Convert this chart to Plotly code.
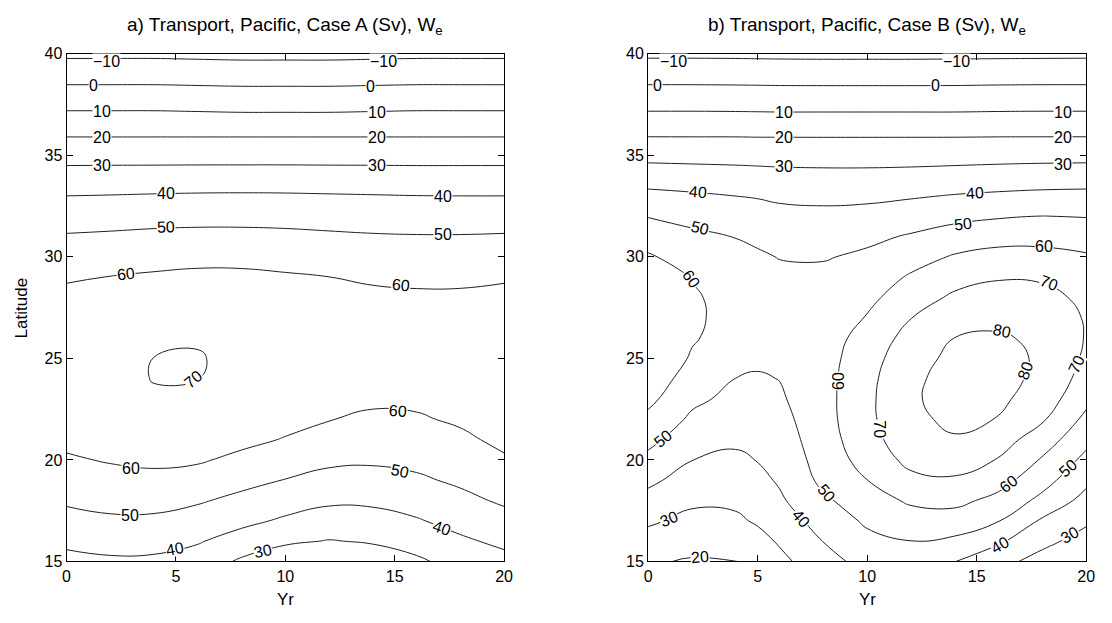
import plotly.graph_objects as go

# ---------------- data ----------------
lat = list(range(15, 41))                     # 15 ... 40 degN
yr_a = [0, 2, 4, 6, 8, 10, 12, 14, 16, 18, 20]
yr_b = [0, 2, 4, 5, 6, 8, 10, 12, 14, 16, 18, 20]
levels = [-10, 0, 10, 20, 30, 40, 50, 60, 70, 80]

# Case A transport (Sv), one list per year column, latitudes 15..40
a_yr00 = [37.2, 42.0, 46.8, 51.3, 55.1, 58.9, 62.1, 64.5, 66.1, 66.9, 66.9, 66.1, 64.6, 62.3, 59.0, 54.9, 50.8, 45.6, 40.0, 33.4, 26.5, 19.3, 11.5, 3.7, -4.1, -11.8]
a_yr02 = [38.5, 43.5, 48.5, 52.8, 56.8, 60.7, 63.9, 66.3, 67.9, 68.7, 68.7, 67.8, 66.1, 63.6, 60.2, 55.8, 51.4, 46.1, 40.3, 33.6, 26.5, 19.3, 11.5, 3.7, -4.1, -11.8]
a_yr04 = [38.2, 43.3, 48.3, 53.0, 57.5, 61.8, 65.2, 67.8, 69.5, 70.15, 70.05, 69.1, 67.3, 64.7, 61.2, 56.7, 52.1, 46.7, 40.7, 33.7, 26.5, 19.3, 11.5, 3.7, -4.1, -11.8]
a_yr06 = [35.6, 40.8, 45.9, 51.0, 56.2, 61.0, 64.5, 67.2, 69.0, 70.05, 70.25, 69.67, 68.05, 65.5, 62.0, 57.4, 52.5, 47.0, 41.0, 33.85, 26.5, 19.3, 11.2, 3.4, -4.4, -12.1]
a_yr08 = [28.5, 35.9, 42.4, 47.6, 52.8, 57.9, 62.2, 65.3, 67.5, 68.8, 69.0, 68.7, 67.4, 65.1, 61.9, 57.4, 52.5, 47.0, 41.1, 33.9, 26.5, 19.3, 10.9, 3.1, -4.7, -12.4]
a_yr10 = [24.3, 31.4, 38.6, 44.3, 49.7, 54.6, 59.5, 62.7, 65.0, 66.4, 66.98, 66.7, 65.65, 63.7, 61.0, 56.7, 52.1, 46.8, 41.0, 33.9, 26.5, 19.3, 10.9, 3.1, -4.7, -12.4]
a_yr12 = [23.4, 29.6, 35.7, 41.6, 47.0, 51.9, 56.2, 60.3, 62.85, 64.55, 65.4, 65.4, 64.5, 62.7, 60.05, 55.7, 51.4, 46.3, 40.7, 33.7, 26.5, 19.3, 10.9, 3.1, -4.7, -12.4]
a_yr14 = [25.3, 30.8, 36.4, 41.75, 46.75, 51.3, 54.9, 58.5, 61.5, 63.4, 64.3, 64.4, 63.6, 61.8, 58.8, 54.8, 50.8, 45.7, 40.4, 33.6, 26.5, 19.3, 11.2, 3.4, -4.4, -12.1]
a_yr16 = [28.4, 33.8, 39.2, 44.0, 48.6, 52.3, 55.7, 59.0, 61.8, 63.6, 64.4, 64.3, 63.3, 61.4, 58.2, 54.3, 50.5, 45.4, 40.1, 33.4, 26.5, 19.3, 11.5, 3.7, -4.1, -11.8]
a_yr18 = [33.5, 38.5, 43.1, 47.6, 51.5, 54.8, 58.2, 61.3, 63.65, 65.0, 65.5, 65.05, 63.7, 61.5, 58.15, 54.3, 50.5, 45.3, 40.0, 33.4, 26.5, 19.3, 11.5, 3.7, -4.1, -11.8]
a_yr20 = [37.2, 42.0, 46.8, 51.3, 55.1, 58.9, 62.1, 64.5, 66.1, 66.9, 66.9, 66.1, 64.6, 62.3, 59.0, 54.9, 50.8, 45.6, 40.0, 33.4, 26.5, 19.3, 11.5, 3.7, -4.1, -11.8]

# Case B transport (Sv)
b_yr00 = [21.0, 26.3, 31.5, 36.8, 42.1, 47.5, 52.7, 57.7, 62.5, 66.1, 68.4, 69.44, 69.2, 67.7, 65.0, 61.1, 55.6, 49.6, 42.6, 34.9, 27.1, 19.3, 11.3, 3.6, -4.0, -11.7]
b_yr02 = [19.2, 23.3, 27.5, 31.7, 35.8, 40.1, 44.2, 48.3, 52.1, 55.5, 59.0, 60.9, 61.5, 61.1, 59.6, 55.8, 52.0, 47.2, 41.3, 34.3, 26.8, 19.3, 11.3, 3.6, -4.0, -11.7]
b_yr04 = [19.9, 24.1, 28.3, 31.9, 35.1, 38.4, 41.5, 44.4, 47.4, 49.9, 53.7, 55.9, 56.9, 56.8, 55.6, 53.2, 49.7, 44.8, 39.95, 33.5, 26.7, 19.3, 11.2, 3.5, -4.1, -11.8]
b_yr05 = [21.1, 26.7, 31.2, 34.3, 37.4, 40.3, 42.5, 44.7, 46.8, 49.0, 51.8, 54.2, 55.35, 55.35, 54.1, 51.55, 47.8, 43.7, 39.4, 33.1, 26.5, 19.2, 11.1, 3.4, -4.2, -11.9]
b_yr06 = [27.4, 31.1, 34.8, 38.5, 41.1, 43.0, 44.9, 46.8, 48.7, 50.2, 53.3, 54.7, 55.0, 54.25, 52.5, 49.6, 46.1, 42.6, 38.5, 32.7, 26.3, 19.2, 11.0, 3.3, -4.3, -12.0]
b_yr08 = [36.2, 40.2, 44.2, 48.2, 52.3, 54.2, 55.5, 56.3, 56.6, 56.5, 56.2, 55.8, 55.2, 54.2, 52.4, 49.3, 45.8, 42.2, 37.9, 32.4, 26.1, 19.2, 11.0, 3.3, -4.4, -12.1]
b_yr10 = [43.5, 47.5, 51.5, 55.7, 59.9, 63.7, 66.2, 67.6, 67.7, 67.1, 65.6, 63.4, 60.5, 57.5, 54.6, 51.7, 47.9, 43.1, 38.0, 32.4, 26.1, 19.2, 11.0, 3.3, -4.4, -12.1]
b_yr12 = [44.5, 49.9, 55.6, 61.4, 67.5, 72.75, 76.2, 78.3, 79.0, 78.4, 76.7, 73.8, 69.8, 65.4, 61.1, 56.1, 50.9, 45.1, 39.1, 32.8, 26.2, 19.2, 11.0, 3.3, -4.4, -12.1]
b_yr14 = [40.2, 48.1, 55.6, 62.5, 68.9, 74.0, 79.35, 81.6, 82.8, 82.9, 82.05, 80.1, 75.9, 71.6, 66.5, 60.9, 54.3, 47.4, 40.5, 33.5, 26.4, 19.2, 11.0, 3.3, -4.3, -12.0]
b_yr16 = [33.1, 41.5, 50.3, 57.2, 63.6, 69.5, 74.3, 79.7, 81.9, 82.9, 82.7, 81.1, 77.6, 73.5, 69.3, 63.2, 56.5, 49.1, 41.5, 34.2, 26.7, 19.3, 11.2, 3.5, -4.1, -11.9]
b_yr18 = [26.4, 32.6, 38.6, 47.3, 53.75, 59.0, 65.0, 71.1, 75.4, 77.9, 78.8, 78.2, 76.3, 73.2, 68.6, 63.0, 56.8, 50.1, 42.3, 34.6, 27.0, 19.3, 11.3, 3.6, -4.0, -11.8]
b_yr20 = [21.0, 26.3, 31.5, 36.8, 42.1, 47.5, 52.7, 57.7, 62.5, 66.1, 68.4, 69.44, 69.2, 67.7, 65.0, 61.1, 55.6, 49.6, 42.6, 34.9, 27.1, 19.3, 11.3, 3.6, -4.0, -11.7]

title_a = "a) Transport, Pacific, Case A (Sv), W<sub>e</sub>"
title_b = "b) Transport, Pacific, Case B (Sv), W<sub>e</sub>"
x_ticks = [0, 5, 10, 15, 20]
y_ticks = [15, 20, 25, 30, 35, 40]

# contour-label placement (level, yr, lat, text angle) -- layout only
labels_a = [
    (-10, 1.83, 39.65, 0), (-10, 14.5, 39.62, 0),
    (0, 1.24, 38.48, 0), (0, 13.9, 38.43, 0),
    (10, 1.6, 37.2, 0), (10, 14.2, 37.14, 0),
    (20, 1.6, 35.91, 0), (20, 14.2, 35.91, 0),
    (30, 1.6, 34.54, 0), (30, 14.2, 34.52, 0),
    (40, 4.55, 33.13, 0), (40, 17.2, 33.0, 0),
    (50, 4.55, 31.46, -2), (50, 17.2, 31.12, 0),
    (60, 2.74, 29.13, -7), (60, 15.28, 28.6, 6),
    (70, 5.8, 24.0, -40),
    (60, 2.95, 19.6, 0), (60, 15.15, 22.42, 4),
    (50, 2.9, 17.3, 0), (50, 15.23, 19.45, 12),
    (40, 4.94, 15.6, -10), (40, 17.14, 16.66, 19),
    (30, 9.0, 15.5, -12),
]
labels_b = [
    (-10, 1.17, 39.65, 0), (-10, 14.06, 39.62, 0),
    (0, 0.45, 38.47, 0), (0, 13.1, 38.47, 0),
    (10, 6.2, 37.15, 0), (10, 18.94, 37.13, 0),
    (20, 6.2, 35.9, 0), (20, 18.94, 35.9, 0),
    (30, 6.2, 34.45, 0), (30, 18.94, 34.59, 0),
    (40, 2.29, 33.2, 5), (40, 14.94, 33.13, -3),
    (50, 2.37, 31.42, 14), (50, 14.38, 31.62, -6),
    (60, 18.06, 30.52, 0),
    (70, 18.3, 28.7, 20),
    (60, 1.97, 28.9, 55),
    (80, 16.14, 26.33, 12),
    (80, 17.2, 24.4, -70),
    (70, 19.58, 24.7, -65),
    (60, 8.68, 23.9, -90),
    (70, 10.55, 21.5, 90),
    (50, 0.66, 21.05, -40),
    (30, 0.95, 17.1, -22),
    (20, 2.37, 15.22, -5),
    (50, 8.13, 18.35, 50),
    (40, 7.0, 17.1, 50),
    (60, 16.46, 18.8, -38),
    (50, 19.18, 19.6, -42),
    (40, 16.06, 15.82, -30),
    (30, 19.26, 16.29, -30),
]

# ---------------- build grids ----------------
cols_a = [a_yr00, a_yr02, a_yr04, a_yr06, a_yr08, a_yr10, a_yr12, a_yr14, a_yr16, a_yr18, a_yr20]
cols_b = [b_yr00, b_yr02, b_yr04, b_yr05, b_yr06, b_yr08, b_yr10, b_yr12, b_yr14, b_yr16, b_yr18, b_yr20]
z_a = [[c[i] for c in cols_a] for i in range(len(lat))]
z_b = [[c[i] for c in cols_b] for i in range(len(lat))]

FONT = "Liberation Sans, Arial, Helvetica, sans-serif"
contours = dict(start=levels[0], end=levels[-1], size=10, coloring="none", showlabels=False)
line = dict(color="#202020", width=1, smoothing=1.3)

fig = go.Figure()
fig.add_trace(go.Contour(x=yr_a, y=lat, z=z_a, autocontour=False, contours=contours,
                         line=line, showscale=False, hoverinfo="skip",
                         xaxis="x", yaxis="y"))
fig.add_trace(go.Contour(x=yr_b, y=lat, z=z_b, autocontour=False, contours=contours,
                         line=line, showscale=False, hoverinfo="skip",
                         xaxis="x2", yaxis="y2"))

W, H = 1112, 623
top, bot = 47, 569
ydom = [1 - bot / H, 1 - top / H]
xdom_a = [63.3 / W, 506 / W]
xdom_b = [651.7 / W, 1095 / W]

ax_common = dict(showline=True, linecolor="black", linewidth=1, mirror="ticks",
                 ticks="inside", ticklen=6, tickcolor="black", showgrid=False,
                 zeroline=False, tickfont=dict(family=FONT, size=16, color="black"))

fig.update_layout(
    width=W, height=H, margin=dict(l=0, r=0, t=0, b=0),
    paper_bgcolor="white", plot_bgcolor="white", showlegend=False,
    font=dict(family=FONT, color="black"),
    xaxis=dict(domain=xdom_a, range=[0, 20], tickvals=x_ticks, anchor="y", **ax_common),
    yaxis=dict(domain=ydom, range=[15, 40], tickvals=y_ticks, anchor="x", **ax_common),
    xaxis2=dict(domain=xdom_b, range=[0, 20], tickvals=x_ticks, anchor="y2", **ax_common),
    yaxis2=dict(domain=ydom, range=[15, 40], tickvals=y_ticks, anchor="x2", **ax_common),
)


def level_text(v):
    return ("\u2212" + str(-v)) if v < 0 else str(v)


ann = []
for labs, xr, yr_ref in ((labels_a, "x", "y"), (labels_b, "x2", "y2")):
    for lev, lx, ly, ang in labs:
        ann.append(dict(text=level_text(lev), x=lx, y=ly, xref=xr, yref=yr_ref,
                        xanchor="center", yanchor="middle", showarrow=False,
                        textangle=ang, bgcolor="white", borderpad=0, height=14,
                        font=dict(family=FONT, size=16, color="black")))

for dom, t in ((xdom_a, title_a), (xdom_b, title_b)):
    cx = (dom[0] + dom[1]) / 2
    ann.append(dict(text=t, x=cx, y=1 - 18 / H, xref="paper", yref="paper",
                    xanchor="center", yanchor="middle", showarrow=False,
                    font=dict(family=FONT, size=19, color="black")))
    ann.append(dict(text="Yr", x=cx, y=1 - 608 / H, xref="paper", yref="paper",
                    xanchor="center", yanchor="middle", showarrow=False,
                    font=dict(family=FONT, size=17, color="black")))
ann.append(dict(text="Latitude", x=18 / W, y=1 - 308 / H, xref="paper", yref="paper",
                xanchor="center", yanchor="middle", textangle=-90, showarrow=False,
                font=dict(family=FONT, size=17, color="black")))
fig.update_layout(annotations=ann)

fig.write_html("out.html", config={"displayModeBar": False})
